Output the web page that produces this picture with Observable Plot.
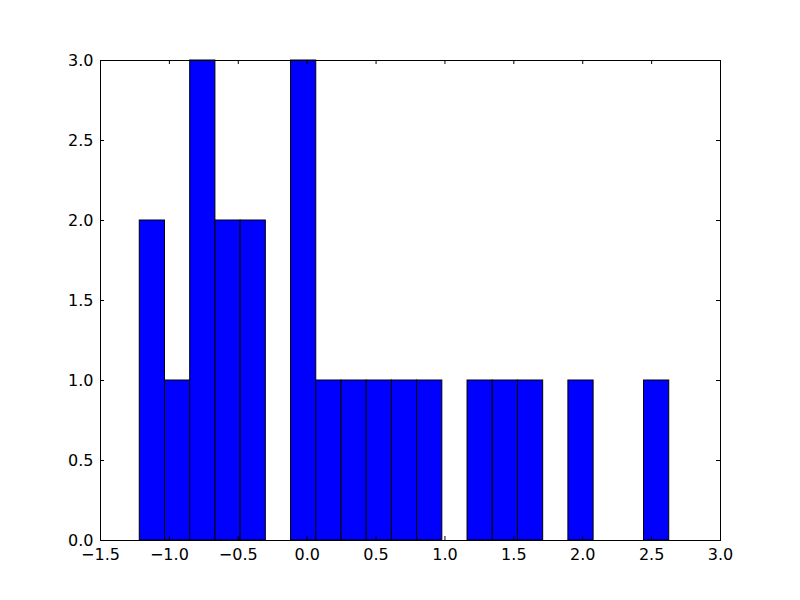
<!DOCTYPE html>
<html>
<head>
<meta charset="utf-8">
<script src="https://cdn.jsdelivr.net/npm/d3@7"></script>
<script src="https://cdn.jsdelivr.net/npm/@observablehq/plot@0.6"></script>
<style>
  html, body { margin: 0; padding: 0; background: #fff; }
  #chart { width: 800px; height: 600px; }
</style>
</head>
<body>
<div id="chart"></div>
<script>
const binEdges = [-1.215, -1.032, -0.849, -0.666, -0.483, -0.300, -0.117, 0.066, 0.249, 0.432, 0.615, 0.798, 0.981, 1.164, 1.347, 1.530, 1.713, 1.896, 2.079, 2.262, 2.445, 2.628];
const counts = [2, 1, 3, 2, 2, 0, 3, 1, 1, 1, 1, 1, 0, 1, 1, 1, 0, 1, 0, 0, 1];
const xTicks = [-1.5, -1.0, -0.5, 0.0, 0.5, 1.0, 1.5, 2.0, 2.5, 3.0];
const yTicks = [0.0, 0.5, 1.0, 1.5, 2.0, 2.5, 3.0];

const bins = counts.map((c, i) => ({x1: binEdges[i], x2: binEdges[i + 1], y: c}));
const fmt = d3.format(".1f");

const chart = Plot.plot({
  width: 800,
  height: 600,
  marginLeft: 100,
  marginRight: 80,
  marginTop: 60,
  marginBottom: 60,
  style: {fontFamily: "DejaVu Sans", fontSize: "16px", color: "black", background: "white"},
  x: {domain: [-1.5, 3.0]},
  y: {domain: [0, 3.0]},
  marks: [
    Plot.rectY(bins, {x1: "x1", x2: "x2", y: "y", fill: "#0000ff", stroke: "black", strokeWidth: 1}),
    Plot.tickX(xTicks, {x: d => d, insetTop: 476, stroke: "black"}),
    Plot.tickX(xTicks, {x: d => d, insetBottom: 476, stroke: "black"}),
    Plot.tickY(yTicks, {y: d => d, insetRight: 616, stroke: "black"}),
    Plot.tickY(yTicks, {y: d => d, insetLeft: 616, stroke: "black"}),
    Plot.axisX(xTicks, {tickSize: 0, tickPadding: 8, tickFormat: fmt, label: null, fontSize: 16}),
    Plot.axisY(yTicks, {tickSize: 0, tickPadding: 7, tickFormat: fmt, label: null, fontSize: 16}),
    Plot.frame({stroke: "black", strokeWidth: 1})
  ]
});
document.getElementById("chart").appendChild(chart);
</script>
</body>
</html>
